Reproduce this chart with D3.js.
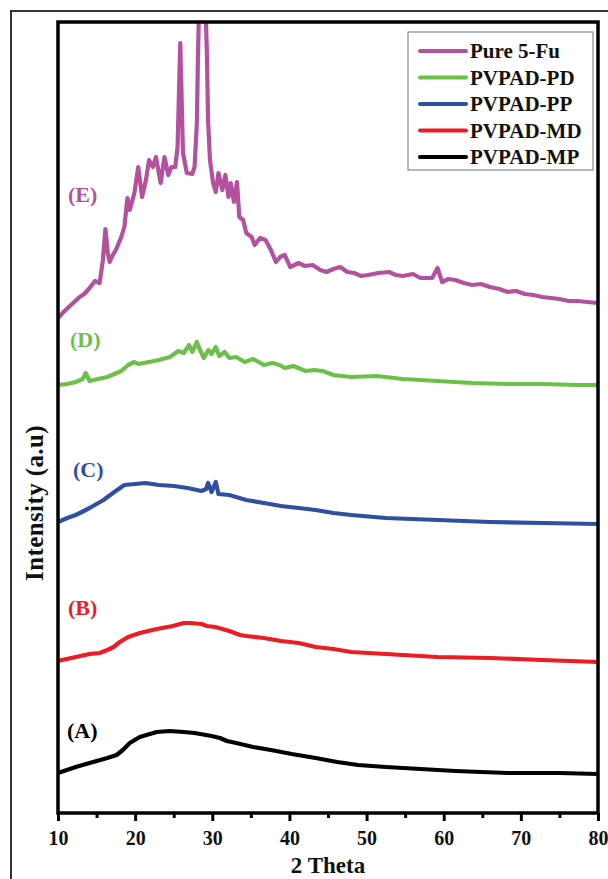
<!DOCTYPE html>
<html>
<head>
<meta charset="utf-8">
<script src="https://cdn.jsdelivr.net/npm/d3@7"></script>
<style>
  html, body { margin: 0; padding: 0; background: #fff; }
  svg { display: block; }
  text { font-family: "Times New Roman", "Liberation Serif", "DejaVu Serif", serif; font-weight: bold; }
</style>
</head>
<body>
<svg id="chart" width="608" height="879"></svg>
<script>
// XRD patterns, 2θ in degrees vs intensity (a.u., stacked offsets)
const seriesNames = ["Pure 5-Fu", "PVPAD-PD", "PVPAD-PP", "PVPAD-MD", "PVPAD-MP"];
const seriesTags = ["(E)", "(D)", "(C)", "(B)", "(A)"];
const seriesColors = ["#B4519E", "#6CC04A", "#2F4FA2", "#EC1C24", "#000000"];

const thetaE = [10, 10.6, 11.4, 12.1, 12.8, 13.4, 14.1, 14.8, 15.4, 15.8, 16.15, 16.45, 16.7, 17.1, 17.5, 18.2, 18.6, 19.0, 19.3, 19.9, 20.4, 20.9, 21.4, 21.8, 22.3, 22.7, 23.3, 23.8, 24.3, 24.7, 25.2, 25.5, 25.85, 26.2, 26.7, 27.4, 27.7, 28.0, 28.15, 28.3, 28.7, 29.1, 29.3, 29.45, 29.7, 30.1, 30.45, 30.8, 31.3, 31.7, 32.1, 32.4, 32.8, 33.2, 33.5, 34.0, 34.4, 35.1, 35.5, 36.2, 36.9, 37.6, 38.25, 38.8, 39.4, 40.1, 41.2, 42.0, 43.0, 44.0, 44.8, 45.7, 46.6, 47.5, 48.4, 49.3, 50.2, 51.5, 52.9, 53.8, 54.7, 56.0, 57.0, 58.5, 59.2, 59.8, 60.6, 61.5, 62.6, 63.7, 64.8, 66.0, 67.2, 68.3, 69.4, 70.5, 71.6, 72.8, 73.9, 75.0, 76.2, 77.3, 78.6, 80];
const valuesE = [495, 500, 506, 511, 516, 519, 525, 532, 530, 552, 584, 560, 551, 558, 563, 576, 586, 615, 603, 620, 646, 616, 633, 653, 646, 656, 630, 656, 638, 646, 646, 666, 770, 660, 640, 639, 646, 690, 760, 810, 850, 810, 760, 693, 653, 630, 621, 640, 623, 638, 616, 630, 611, 631, 596, 593, 580, 576, 568, 575, 573, 563, 551, 556, 558, 546, 550, 547, 548, 543, 541, 544, 546, 541, 540, 537, 538, 540, 541, 538, 537, 539, 535, 535, 545, 531, 534, 533, 530, 528, 529, 526, 524, 521, 522, 519, 518, 516, 515, 514, 512, 512, 511, 510];

const thetaD = [10, 11.2, 12.3, 13.2, 13.6, 14.1, 15.2, 16.4, 17.3, 18.2, 19.1, 19.9, 20.4, 21.1, 21.8, 23.1, 24.5, 25.6, 26.3, 27.0, 27.4, 28.0, 28.3, 28.9, 29.5, 29.9, 30.45, 30.9, 31.6, 32.2, 33.1, 34.2, 35.3, 36.7, 37.8, 38.7, 39.4, 40.5, 42.1, 43.2, 44.3, 45.7, 48.0, 51.3, 54.7, 59.2, 63.7, 68.3, 72.8, 77.3, 80];
const valuesD = [428, 429, 431, 434, 440, 432, 434, 436, 439, 442, 448, 451, 449, 450, 451, 453, 456, 462, 460, 468, 461, 471, 465, 455, 463, 459, 466, 457, 461, 455, 456, 451, 454, 448, 450, 448, 445, 447, 442, 443, 442, 438, 436, 437, 434, 432, 430, 429, 429, 428, 428];

const thetaC = [10, 11.2, 12.3, 14.1, 15.9, 17.3, 18.6, 20.0, 21.3, 23.1, 25.0, 26.8, 28.6, 29.2, 29.46, 29.9, 30.45, 30.8, 32.2, 34.4, 36.7, 38.9, 41.2, 43.4, 45.7, 48.0, 52.5, 59.2, 66.0, 72.8, 80];
const valuesC = [291, 295, 298, 305, 313, 321, 328, 329, 330, 328, 327, 325, 322, 324, 330, 321, 331, 319, 318, 313, 310, 307, 305, 303, 300, 298, 295, 293, 291, 290, 289];

const thetaB = [10, 12.3, 14.1, 15.4, 16.4, 17.2, 18.0, 19.1, 20.6, 22.8, 24.9, 26.3, 27.1, 28.6, 29.3, 30.4, 32.2, 33.6, 34.4, 36.7, 38.9, 41.2, 43.4, 45.7, 48.0, 52.5, 59.2, 66.0, 72.8, 80];
const valuesB = [152, 156, 159, 160, 163, 166, 171, 176, 180, 184, 187, 190, 190, 189, 187, 186, 182, 178, 177, 175, 172, 170, 166, 164, 161, 159, 156, 155, 153, 151];

const thetaA = [10, 12.3, 14.1, 16.4, 17.6, 18.4, 19.3, 20.6, 22.8, 24.5, 26.3, 27.7, 29.9, 31.0, 31.9, 33.1, 35.3, 37.6, 40.3, 43.4, 46.2, 48.9, 52.5, 57.0, 61.5, 68.3, 75.0, 80];
const valuesA = [40, 46, 50, 55, 58, 63, 70, 76, 81, 82, 81, 80, 77, 75, 72, 70, 66, 63, 59, 55, 51, 48, 46, 44, 42, 40, 40, 39];

const thetaSets = [thetaE, thetaD, thetaC, thetaB, thetaA];
const valueSets = [valuesE, valuesD, valuesC, valuesB, valuesA];

const xTicks = [10, 20, 30, 40, 50, 60, 70, 80];
const xMinorTicks = [15, 25, 35, 45, 55, 65, 75];

const svg = d3.select("#chart");
const plot = { left: 58, right: 598, top: 22, bottom: 813 };

const x = d3.scaleLinear().domain([10, 80]).range([plot.left, plot.right]);
const y = d3.scaleLinear().domain([0, 791]).range([plot.bottom, plot.top]);

// outer figure border (top and left edges)
svg.append("path")
  .attr("d", "M11,879 V11 H608")
  .attr("fill", "none").attr("stroke", "#333").attr("stroke-width", 2);

svg.append("defs").append("clipPath").attr("id", "plotclip")
  .append("rect")
  .attr("x", plot.left).attr("y", plot.top)
  .attr("width", plot.right - plot.left).attr("height", plot.bottom - plot.top);

// traces
const line = d3.line()
  .x(d => x(d[0])).y(d => y(d[1]))
  .curve(d3.curveLinear);

const traces = svg.append("g").attr("clip-path", "url(#plotclip)");
seriesNames.forEach((name, i) => {
  const pts = thetaSets[i].map((t, k) => [t, valueSets[i][k]]);
  traces.append("path")
    .datum(pts)
    .attr("d", line)
    .attr("fill", "none")
    .attr("stroke", seriesColors[i])
    .attr("stroke-width", 4.2)
    .attr("stroke-linejoin", "round")
    .attr("stroke-linecap", "round");
});

// plot frame
svg.append("rect")
  .attr("x", plot.left).attr("y", plot.top)
  .attr("width", plot.right - plot.left).attr("height", plot.bottom - plot.top)
  .attr("fill", "none").attr("stroke", "#000").attr("stroke-width", 3.5);

// x axis: major ticks with labels, unlabelled minor ticks
const xAxis = d3.axisBottom(x).tickValues(xTicks).tickSize(8).tickPadding(10).tickFormat(d3.format("d"));
const gx = svg.append("g").attr("transform", `translate(0,${plot.bottom})`).call(xAxis);
gx.select(".domain").remove();
gx.selectAll(".tick line").attr("stroke", "#000").attr("stroke-width", 3);
gx.selectAll(".tick text")
  .attr("font-size", 20).attr("fill", "#111")
  .attr("font-family", "'Times New Roman', 'Liberation Serif', serif").attr("font-weight", "bold");

const xMinor = d3.axisBottom(x).tickValues(xMinorTicks).tickSize(5).tickFormat("");
const gm = svg.append("g").attr("transform", `translate(0,${plot.bottom})`).call(xMinor);
gm.select(".domain").remove();
gm.selectAll(".tick line").attr("stroke", "#000").attr("stroke-width", 3);

// axis titles
svg.append("text")
  .attr("x", (plot.left + plot.right) / 2).attr("y", 873)
  .attr("text-anchor", "middle").attr("font-size", 23).attr("fill", "#111")
  .text("2 Theta");

svg.append("text")
  .attr("transform", "translate(43,503) rotate(-90)")
  .attr("text-anchor", "middle").attr("font-size", 25).attr("letter-spacing", 0.4).attr("fill", "#111")
  .text("Intensity (a.u)");

// trace tags
const tagPos = [[68, 202], [70, 347], [73, 477], [68, 615], [67, 738]];
seriesTags.forEach((tag, i) => {
  svg.append("text")
    .attr("x", tagPos[i][0]).attr("y", tagPos[i][1])
    .attr("font-size", 22).attr("fill", seriesColors[i])
    .text(tag);
});

// legend
const legend = svg.append("g");
legend.append("rect")
  .attr("x", 408).attr("y", 32).attr("width", 185).attr("height", 138)
  .attr("fill", "#fff").attr("stroke", "#888").attr("stroke-width", 1.2);
seriesNames.forEach((name, i) => {
  const ry = 51 + i * 26.5;
  legend.append("line")
    .attr("x1", 420).attr("x2", 466).attr("y1", ry).attr("y2", ry)
    .attr("stroke", seriesColors[i]).attr("stroke-width", 4).attr("stroke-linecap", "round");
  legend.append("text")
    .attr("x", 470).attr("y", ry + 7)
    .attr("font-size", 21).attr("fill", "#111")
    .text(name);
});
</script>
</body>
</html>
